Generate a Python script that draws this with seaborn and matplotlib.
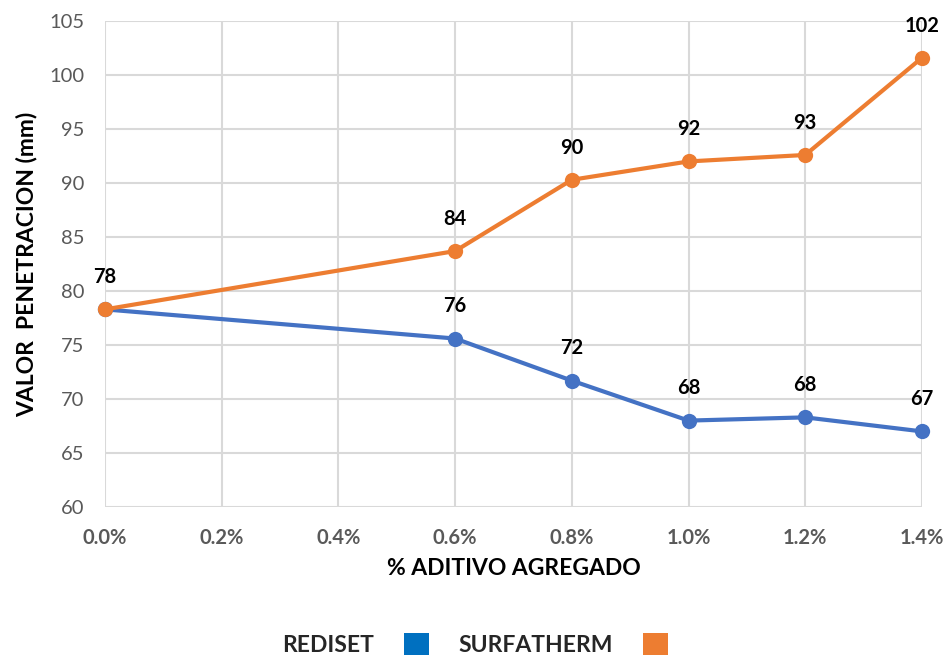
import matplotlib
matplotlib.use("Agg")
import matplotlib.pyplot as plt
import seaborn as sns
import pandas as pd
from matplotlib.patches import Patch
from matplotlib.ticker import FuncFormatter

aditivo = [0.0, 0.6, 0.8, 1.0, 1.2, 1.4]
rediset = [78.3, 75.6, 71.7, 68.0, 68.3, 67.0]
surfatherm = [78.3, 83.7, 90.3, 92.0, 92.6, 101.6]
rediset_labels = ["78", "76", "72", "68", "68", "67"]
surfatherm_labels = ["78", "84", "90", "92", "93", "102"]
series_names = ["REDISET", "SURFATHERM"]
line_colors = ["#4472C4", "#ED7D31"]
legend_colors = ["#0070C0", "#ED7D31"]

sns.set_style("white")
plt.rcParams['font.family'] = ['Lato', 'DejaVu Sans']

df = pd.DataFrame({
    "x": aditivo * 2,
    "y": rediset + surfatherm,
    "serie": [series_names[0]] * len(aditivo) + [series_names[1]] * len(aditivo),
})

fig = plt.figure(figsize=(9.5, 6.58), dpi=100)
ax = fig.add_axes([0.1105, 0.2295, 0.860, 0.7385])

sns.lineplot(data=df, x="x", y="y", hue="serie", palette=line_colors,
             marker="o", markersize=11, markeredgewidth=0, linewidth=3,
             legend=False, ax=ax, zorder=3, clip_on=False)

ax.set_xlim(0, 1.4)
ax.set_ylim(60, 105)
ax.set_xticks([0.0, 0.2, 0.4, 0.6, 0.8, 1.0, 1.2, 1.4])
ax.set_yticks(range(60, 106, 5))
ax.xaxis.set_major_formatter(FuncFormatter(lambda v, p: f"{v:.1f}%"))
ax.grid(True, color="#D9D9D9", linewidth=1.5)
ax.set_axisbelow(True)
for s in ax.spines.values():
    s.set_visible(False)
ax.tick_params(axis="both", length=0, labelsize=14.5, labelcolor="#595959")
ax.tick_params(axis="x", pad=15)
ax.tick_params(axis="y", pad=15)
for lab in ax.get_xticklabels():
    lab.set_fontweight("bold")

ax.set_xlabel("% ADITIVO AGREGADO", fontsize=16.5, fontweight="bold", color="black", labelpad=7)
ax.set_ylabel("VALOR  PENETRACION (mm)", fontsize=16.5, fontweight="bold", color="black", labelpad=8)

for xs, ys, labs in [(aditivo, surfatherm, surfatherm_labels), (aditivo, rediset, rediset_labels)]:
    for i, (xv, yv, lb) in enumerate(zip(xs, ys, labs)):
        if labs is rediset_labels and i == 0:
            continue
        ax.annotate(lb, (xv, yv), xytext=(0, 16), textcoords="offset points",
                    ha="center", va="bottom", fontsize=14.5, fontweight="bold", color="black",
                    annotation_clip=False)

handles = [Patch(facecolor=c, edgecolor="none") for c in legend_colors]
fig.legend(handles, series_names, loc="center", bbox_to_anchor=(0.5, 0.02),
           ncol=2, frameon=False, markerfirst=False, handlelength=1.1, handleheight=1.1,
           columnspacing=1.3, handletextpad=1.3,
           prop={"size": 16.5, "weight": "bold"}, labelcolor="#262626")

fig.savefig("out.png", dpi=100)
